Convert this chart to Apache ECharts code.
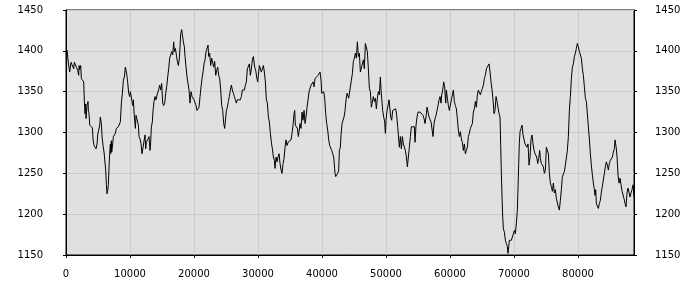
<!DOCTYPE html>
<html>
<head>
<meta charset="utf-8">
<script src="https://cdn.jsdelivr.net/npm/echarts@6/dist/echarts.min.js"></script>
<style>
html,body{margin:0;padding:0;background:#fff;}
#chart{width:700px;height:300px;}
</style>
</head>
<body>
<div id="chart"></div>
<script>
// Axis ranges / ticks
const xTicks = [0, 10000, 20000, 30000, 40000, 50000, 60000, 70000, 80000];
const yTicks = [1150, 1200, 1250, 1300, 1350, 1400, 1450];
const xEnd = 88750;

// Series values as [x, y] pairs, in segments
const segA = [[0,1398],[162,1401],[370,1385],[578,1374],[787,1386],[995,1384],[1203,1378],[1308,1386],[1412,1384],[1620,1380],[1828,1376],[1985,1370],[2037,1382],[2141,1377],[2297,1382],[2401,1366],[2558,1364],[2766,1362],[2870,1338],[2974,1323],[3078,1335],[3131,1317],[3287,1333],[3443,1338],[3495,1327],[3599,1323],[3703,1309],[3912,1307],[4120,1306],[4224,1292],[4380,1284],[4537,1282],[4641,1286],[4693,1280],[4849,1286],[4953,1297],[5110,1303],[5266,1309],[5370,1319],[5526,1311],[5630,1295],[5787,1284],[5943,1276],[6099,1274],[6203,1254],[6308,1236],[6412,1225],[6516,1229],[6620,1236],[6724,1258],[6828,1274],[6933,1286],[6985,1274],[7089,1290],[7141,1276],[7245,1282],[7401,1295],[7558,1297],[7714,1299],[7870,1305],[8026,1303],[8183,1307],[8339,1309],[8495,1313],[8651,1336],[8808,1348],[8964,1364],[9120,1368],[9276,1380],[9433,1374],[9589,1366],[9693,1364],[9797,1348],[9953,1344],[10058,1350],[10214,1352],[10318,1338],[10422,1333],[10526,1340],[10630,1325],[10734,1323],[10839,1305],[10943,1321],[11047,1319],[11203,1321],[11307,1309],[11412,1295],[11568,1292],[11724,1286],[11880,1274],[12037,1282],[12193,1284],[12349,1297],[12453,1280],[12557,1288],[12662,1286],[12818,1292],[12974,1295],[13130,1278],[13234,1288],[13339,1307],[13495,1313],[13599,1327],[13755,1338],[13911,1344],[14068,1340],[14224,1346],[14380,1350],[14536,1354]];
const segB = [[14641,1358],[14797,1352],[14953,1360],[15109,1336],[15266,1333],[15422,1336],[15578,1348],[15734,1356],[15891,1368],[16047,1378],[16203,1391],[16359,1393],[16516,1399],[16672,1395],[16828,1411],[16932,1399],[17088,1403],[17245,1395],[17401,1387],[17557,1382],[17713,1391],[17818,1405],[17922,1421],[18078,1426],[18234,1425],[18338,1411],[18495,1405],[18599,1393],[18755,1380],[18911,1368],[19068,1360],[19224,1352],[19380,1336],[19536,1350],[19693,1344],[19849,1342],[20005,1340],[20161,1338],[20318,1333],[20474,1327],[20630,1325],[20786,1331],[20943,1344],[21099,1356],[21255,1366],[21411,1374],[21568,1384],[21724,1389],[21880,1399],[22036,1401],[22193,1407],[22297,1393],[22453,1397],[22609,1382],[22766,1391],[22922,1393],[23078,1380],[23234,1387],[23391,1370],[23547,1376],[23703,1380],[23859,1370],[24016,1366],[24172,1352],[24328,1333],[24484,1327],[24641,1311],[24797,1305],[24953,1303],[25057,1327],[25213,1331],[25370,1338],[25526,1344],[25682,1352],[25838,1358],[25995,1352],[26151,1348],[26307,1344],[26463,1340],[26620,1336],[26776,1340],[26932,1338],[27088,1342],[27245,1340],[27401,1344],[27557,1352],[27713,1354],[27870,1352],[28026,1358],[28182,1362],[28338,1378],[28495,1380],[28651,1384],[28807,1370],[28963,1378],[29120,1389],[29276,1393]];
const segC = [[29484,1380],[29641,1376],[29797,1368],[29953,1362],[30057,1370],[30214,1382],[30370,1380],[30526,1374],[30682,1378],[30839,1382],[30995,1374],[31151,1362],[31307,1340],[31464,1336],[31620,1319],[31776,1313],[31932,1299],[32089,1288],[32245,1280],[32401,1270],[32557,1266],[32662,1256],[32818,1270],[32974,1264],[33130,1270],[33287,1274],[33443,1262],[33599,1254],[33755,1250],[33912,1262],[34068,1268],[34224,1282],[34380,1291],[34537,1284],[34693,1288],[34849,1286],[35005,1288],[35162,1291],[35318,1299],[35474,1309],[35630,1323],[35735,1327],[35839,1309],[35995,1307],[36151,1305],[36307,1295],[36412,1301],[36568,1311],[36724,1305],[36880,1325],[37037,1315],[37193,1327],[37349,1311],[37505,1319],[37662,1331],[37818,1340],[37974,1350],[38130,1354],[38287,1358],[38443,1358],[38599,1362],[38755,1356],[38912,1366],[39068,1368],[39224,1366],[39380,1370],[39537,1368],[39693,1374],[39849,1364],[39953,1348],[40109,1346],[40266,1350],[40422,1342],[40578,1323],[40734,1311],[40891,1303],[41047,1291],[41203,1284],[41359,1282],[41516,1278],[41672,1274],[41828,1270],[41932,1260],[42037,1250],[42141,1246],[42297,1244],[42453,1250],[42609,1254],[42714,1278],[42870,1282],[42974,1297],[43130,1311],[43287,1315],[43443,1319],[43599,1327],[43755,1340],[43912,1348]];
const segD = [[44016,1348],[44172,1342],[44328,1344],[44484,1340],[44589,1364],[44745,1372],[44901,1387],[45057,1391],[45214,1397],[45370,1391],[45526,1411],[45682,1393],[45839,1397],[45995,1374],[46151,1376],[46307,1374],[46464,1389],[46620,1378],[46776,1409],[46932,1411],[47089,1399],[47245,1378],[47401,1354],[47557,1350],[47714,1331],[47870,1329],[48026,1344],[48182,1338],[48339,1342],[48495,1329],[48651,1342],[48807,1350],[48964,1346],[49120,1368],[49224,1352],[49328,1342],[49484,1327],[49641,1319],[49797,1313],[49901,1299],[50005,1315],[50161,1327],[50318,1333],[50474,1340],[50630,1342],[50734,1319],[50891,1315],[51047,1327],[51203,1329],[51359,1327],[51516,1329],[51672,1321],[51828,1307],[51932,1297],[52089,1282],[52245,1295],[52401,1280],[52557,1295],[52714,1286],[52870,1282],[53026,1278],[53182,1270],[53339,1258],[53495,1270],[53651,1282],[53807,1295],[53964,1307],[54120,1309],[54276,1309],[54432,1307],[54537,1288],[54693,1309],[54849,1319],[55005,1325],[55162,1325],[55318,1325],[55474,1327],[55630,1327],[55787,1321],[55943,1317],[56099,1311],[56255,1319],[56412,1331],[56568,1325],[56724,1319],[56880,1321],[57037,1313],[57193,1315],[57349,1295],[57505,1311],[57662,1317],[57818,1321],[57974,1327],[58130,1333],[58287,1340],[58443,1344],[58599,1336]];
const segE = [[58703,1346],[58860,1352],[59016,1362],[59172,1356],[59328,1336],[59433,1352],[59589,1342],[59745,1333],[59901,1327],[60058,1329],[60214,1340],[60370,1346],[60526,1352],[60683,1338],[60839,1333],[60995,1329],[61151,1317],[61308,1303],[61464,1295],[61620,1301],[61776,1292],[61933,1288],[62089,1278],[62245,1286],[62401,1274],[62558,1278],[62714,1282],[62870,1295],[63026,1299],[63183,1305],[63339,1303],[63495,1311],[63651,1325],[63808,1329],[63964,1338],[64120,1331],[64276,1346],[64433,1352],[64589,1354],[64745,1346],[64901,1350],[65058,1354],[65214,1358],[65370,1366],[65526,1370],[65683,1378],[65839,1380],[65995,1376],[66099,1384],[66255,1374],[66412,1362],[66568,1352],[66724,1340],[66880,1323],[67037,1327],[67193,1344],[67349,1338],[67505,1340],[67662,1323],[67818,1319],[67922,1284],[68026,1250],[68130,1221],[68235,1197],[68339,1182],[68495,1178],[68651,1168],[68808,1164],[68964,1160],[69068,1152],[69172,1160],[69276,1168],[69433,1168],[69589,1168],[69745,1168],[69901,1170],[70058,1180],[70214,1176],[70370,1189],[70526,1205],[70631,1233],[70735,1262],[70839,1288],[70943,1301],[71099,1305],[71256,1309],[71412,1297],[71568,1295],[71724,1286],[71881,1288],[72037,1282],[72193,1286],[72349,1260],[72506,1270],[72662,1292],[72818,1297],[72974,1286],[73131,1278],[73287,1274]];
const segF = [[73391,1276],[73547,1270],[73703,1262],[73859,1268],[74016,1278],[74120,1268],[74276,1262],[74432,1264],[74589,1258],[74745,1250],[74901,1254],[75057,1282],[75214,1284],[75370,1274],[75526,1250],[75682,1238],[75839,1234],[75995,1228],[76151,1238],[76307,1226],[76464,1230],[76620,1219],[76776,1217],[76932,1209],[77089,1205],[77245,1217],[77401,1230],[77557,1246],[77714,1248],[77870,1252],[78026,1260],[78182,1262],[78339,1278],[78495,1295],[78651,1327],[78807,1344],[78964,1366],[79120,1380],[79276,1384],[79432,1393],[79589,1397],[79745,1403],[79901,1409],[80057,1405],[80214,1399],[80370,1401],[80526,1391],[80682,1378],[80839,1370],[80995,1356],[81151,1342],[81307,1338],[81464,1323],[81620,1307],[81776,1292],[81932,1274],[82089,1260],[82245,1248],[82401,1238],[82557,1230],[82661,1223],[82766,1230],[82870,1213],[83026,1215],[83182,1207],[83339,1213],[83495,1217],[83651,1227],[83807,1234],[83964,1232],[84120,1250],[84276,1258],[84432,1264],[84589,1260],[84745,1254],[84901,1262],[85057,1266],[85214,1264],[85370,1270],[85526,1276],[85682,1280],[85786,1291],[85891,1293],[85995,1280],[86099,1270],[86255,1248],[86411,1238],[86568,1244],[86724,1236],[86880,1228],[87036,1226],[87193,1219],[87349,1213],[87505,1209],[87661,1226],[87818,1232],[87974,1234],[88130,1221],[88286,1226],[88443,1230],[88599,1236],[88750,1221]];

const seriesData = segA.concat(segB, segC, segD, segE, segF);

const FONT = 'DejaVu Sans';
const labelStyle = { color: '#000', fontFamily: FONT, fontSize: 10 };

function yAxisCfg(pos, margin, split) {
  return {
    type: 'value',
    position: pos,
    min: yTicks[0],
    max: yTicks[yTicks.length - 1],
    interval: 50,
    axisLine: { show: true, lineStyle: { color: '#000', width: 1 } },
    axisTick: { show: true, length: 3, lineStyle: { color: '#000' } },
    axisLabel: Object.assign({ margin: margin, formatter: v => String(v) }, labelStyle),
    splitLine: { show: split, lineStyle: { color: '#cbcbcb', width: 1 } }
  };
}

const chart = echarts.init(document.getElementById('chart'), null, { renderer: 'canvas' });
chart.setOption({
  animation: false,
  backgroundColor: '#fff',
  grid: {
    left: 66, right: 66, top: 10, height: 245,
    show: true, backgroundColor: '#e0e0e0', borderColor: '#000', borderWidth: 1
  },
  xAxis: {
    type: 'value',
    min: xTicks[0],
    max: xEnd,
    interval: 10000,
    axisLine: { show: true, lineStyle: { color: '#000', width: 1 } },
    axisTick: { show: true, length: 3, lineStyle: { color: '#000' } },
    axisLabel: Object.assign({ margin: 14, showMaxLabel: false, formatter: v => String(v) }, labelStyle),
    splitLine: { show: true, lineStyle: { color: '#cbcbcb', width: 1 } }
  },
  yAxis: [yAxisCfg('left', 23, true), yAxisCfg('right', 21, false)],
  series: [{
    type: 'line',
    data: seriesData,
    showSymbol: false,
    symbol: 'none',
    silent: true,
    lineStyle: { color: '#000', width: 1 }
  }]
});
</script>
</body>
</html>
